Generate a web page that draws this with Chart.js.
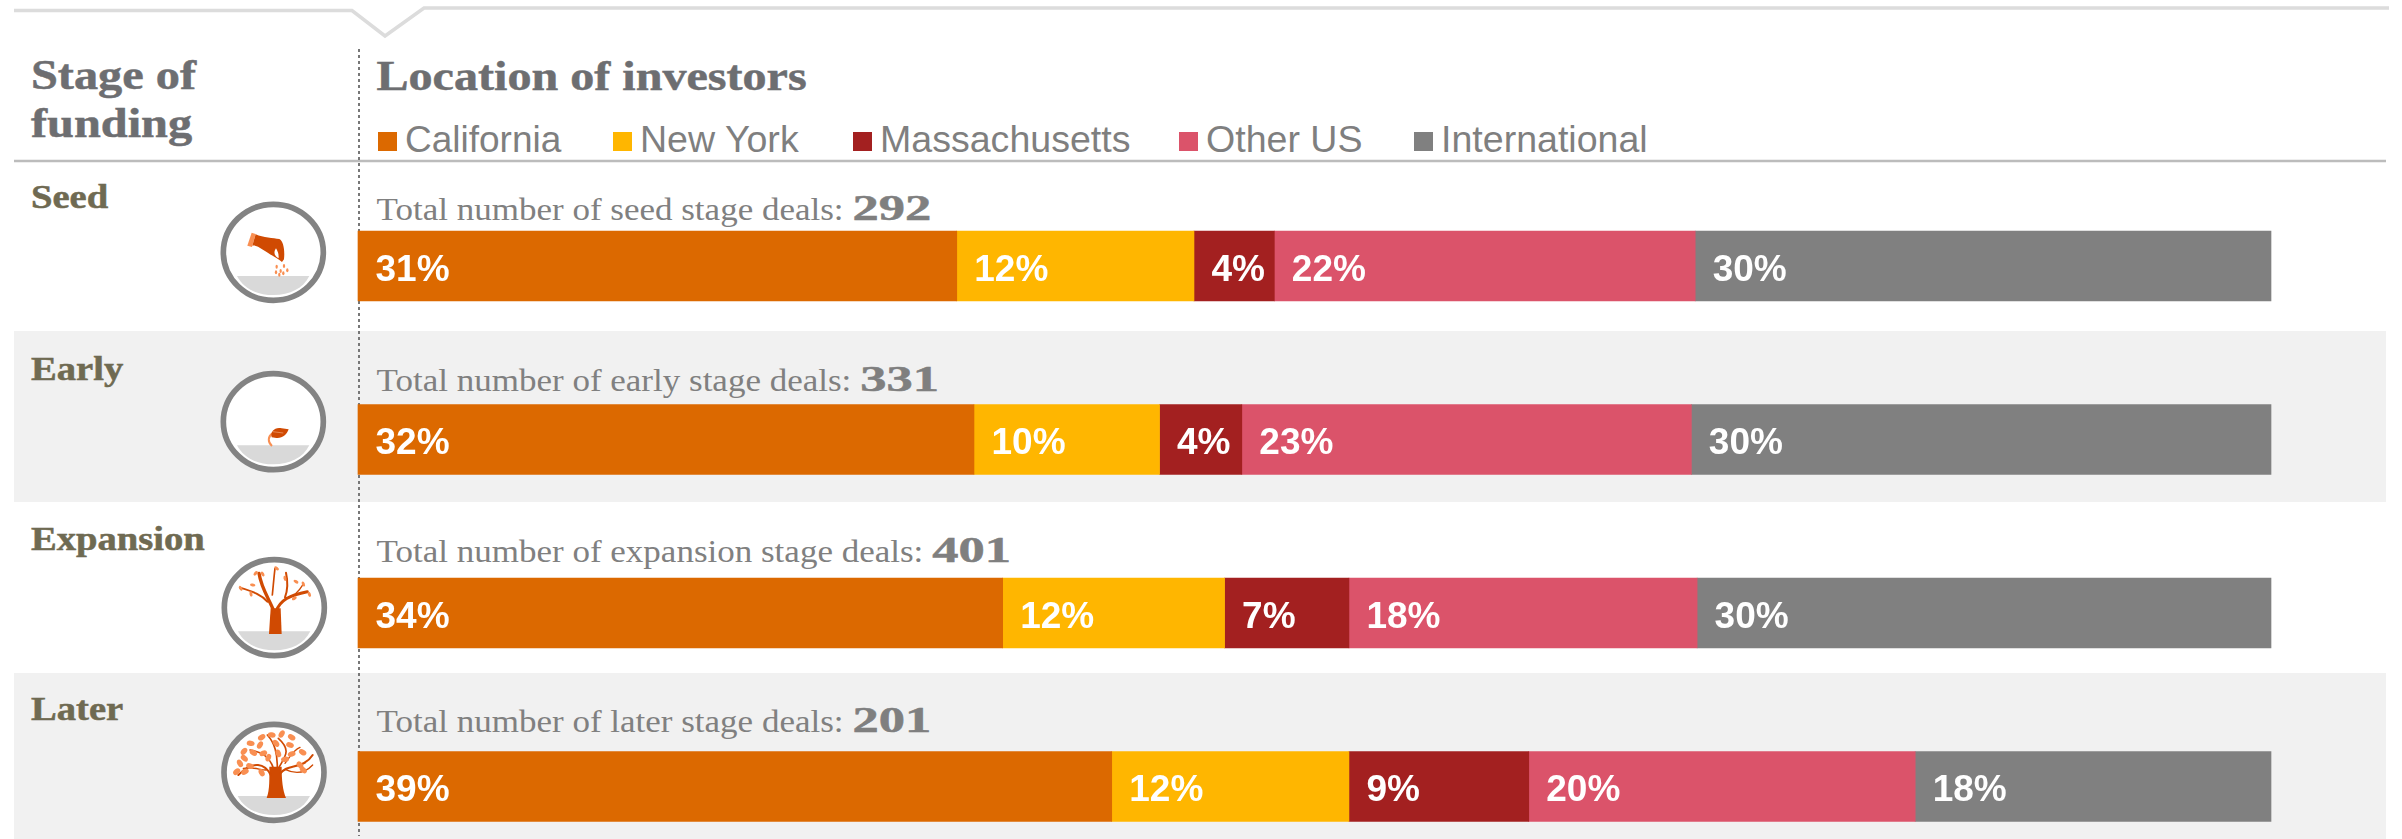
<!DOCTYPE html>
<html>
<head>
<meta charset="utf-8">
<title>Stage of funding by location of investors</title>
<script src="https://cdn.jsdelivr.net/npm/chart.js@4"></script>
<style>
  html, body { margin: 0; background: #fff; }
  #wrap { position: relative; width: 2402px; height: 839px; overflow: hidden; }
  #bg, #chart { position: absolute; left: 0; top: 0; }
</style>
</head>
<body>
<div id="wrap">
  <svg id="bg" width="2402" height="839" viewBox="0 0 2402 839" xmlns="http://www.w3.org/2000/svg"></svg>
  <canvas id="chart" width="2402" height="839"></canvas>
</div>
<script>
// Data
const stages = ['Seed', 'Early', 'Expansion', 'Later'];
const totalDeals = [292, 331, 401, 201];
const seriesNames = ['California', 'New York', 'Massachusetts', 'Other US', 'International'];
const seriesColors = ['#DC6900', '#FFB600', '#A32020', '#DB536A', '#808080'];

const california = [31.3, 32.2, 33.7, 39.4];
const newYork = [12.4, 9.7, 11.6, 12.4];
const massachusetts = [4.2, 4.3, 6.5, 9.4];
const otherUs = [22.0, 23.5, 18.2, 20.2];
const international = [30.1, 30.3, 30.0, 18.6];

const californiaLabels = ['31%', '32%', '34%', '39%'];
const newYorkLabels = ['12%', '10%', '12%', '12%'];
const massachusettsLabels = ['4%', '4%', '7%', '9%'];
const otherUsLabels = ['22%', '23%', '18%', '20%'];
const internationalLabels = ['30%', '30%', '30%', '18%'];

const seriesValues = [california, newYork, massachusetts, otherUs, international];
const seriesLabels = [californiaLabels, newYorkLabels, massachusettsLabels, otherUsLabels, internationalLabels];

const SERIF = "'Liberation Serif', serif";
const SANS = "'Liberation Sans', Arial, sans-serif";
const svg = document.getElementById('bg');

// Icons, drawn in crop pixels at 3x
function leaves(list, rx, ry) {
  return list.map(l => `<ellipse cx="${l[0]}" cy="${l[1]}" rx="${rx}" ry="${ry}" transform="rotate(${l[2]} ${l[0]} ${l[1]})" fill="#f98f52"/>`).join('');
}
const ring = `<ellipse cx="0" cy="0" rx="150" ry="144" fill="#fff" stroke="#838383" stroke-width="17"/>
  <path d="M-109,71 H108 C90,108 50,128 0,128 C-50,128 -90,108 -109,71 Z" fill="#d9d9d9"/>`;
const iconSeed = `<path d="M185,128 L197,132 L186,171 L172,167 Z" fill="#f98f52"/>
  <path d="M197,133 C220,143 250,145 268,147 C280,152 285,180 282,208 L276,216 C262,205 235,190 220,180 C205,170 195,165 187,167 Z" fill="#d04a02"/>
  <path d="M258,175 C266,188 266,196 266,205 C256,200 248,190 258,175 Z" fill="#fff"/>
  ${leaves([[260,230,0],[282,228,0],[258,247,0],[272,243,0],[292,241,0],[268,254,0],[280,250,0]], 3.5, 6)}`;
const iconEarly = `<path d="M246,258 C232,245 234,230 247,220" fill="none" stroke="#f98f52" stroke-width="6"/>
  <path d="M245,232 C240,215 255,200 275,205 L296,208 C290,225 275,237 255,233 Z" fill="#d04a02"/>
  <path d="M248,215 L280,219" stroke="#f2a77c" stroke-width="2"/>`;
const iconExpansion = `<path d="M237,282 L242,205 L272,205 L275,282 Z" fill="#d04a02"/>
  <g fill="none" stroke="#d04a02" stroke-linecap="round">
    <path d="M252,215 C240,180 215,150 207,100" stroke-width="10"/>
    <path d="M258,215 C270,180 300,165 352,155" stroke-width="9"/>
    <path d="M232,185 C215,165 190,155 150,143" stroke-width="6"/>
    <path d="M285,172 C295,145 294,125 288,98" stroke-width="6"/>
    <path d="M247,165 C250,135 252,110 255,85" stroke-width="5"/>
    <path d="M318,160 C330,150 335,140 340,132" stroke-width="4"/>
  </g>
  ${leaves([[260,85,40],[218,102,60],[197,100,-50],[285,115,80],[318,125,30],[340,132,70],[188,135,10],[152,145,60],[183,162,80],[313,175,-30],[358,163,70]], 8, 4.5)}`;
const iconLater = `<path d="M230,264 C240,240 238,200 238,170 L275,170 C275,210 278,240 288,264 Z" fill="#d04a02"/>
  <g fill="none" stroke="#d04a02" stroke-linecap="round">
    <path d="M242,195 C225,160 190,150 145,195" stroke-width="6"/>
    <path d="M272,190 C290,160 340,180 368,135" stroke-width="6"/>
    <path d="M250,175 C240,140 215,125 180,120" stroke-width="5"/>
    <path d="M262,175 C262,130 255,100 232,75" stroke-width="5"/>
    <path d="M268,170 C285,140 305,120 265,85" stroke-width="5"/>
    <path d="M285,160 C300,140 310,120 330,112" stroke-width="4"/>
    <path d="M285,178 C310,190 340,195 368,165" stroke-width="4"/>
    <path d="M160,175 C190,170 210,180 228,180" stroke-width="4"/>
  </g>
  ${leaves([[215,82,-30],[245,75,10],[275,72,-60],[305,82,30],[182,100,10],[210,105,-60],[258,100,50],[300,105,20],[162,124,-50],[190,128,30],[235,143,-70],[338,127,30],[305,132,-20],[163,145,40],[150,160,60],[180,168,20],[285,148,-10],[330,165,50],[140,185,-40],[215,188,60],[340,180,40],[165,185,-30],[265,130,70],[220,130,-20]], 12, 8)}`;

const icons = [
  { crop: [190, 190], center: [250, 187], art: iconSeed },
  { crop: [190, 360], center: [250, 185], art: iconEarly },
  { crop: [190, 540], center: [253, 203], art: iconExpansion },
  { crop: [190, 710], center: [252, 187], art: iconLater }
];

// Frame, row bands and rules sit behind the canvas
svg.innerHTML = `
  <rect x="14" y="331" width="2372" height="171" fill="#f1f1f1"/>
  <rect x="14" y="673" width="2372" height="166" fill="#f1f1f1"/>
  <polyline points="14,10.5 352,10.5 385,36 424,8 2389,8" fill="none" stroke="#dcdcdc" stroke-width="3.5"/>
  <line x1="14" y1="161" x2="2386" y2="161" stroke="#bcbcbc" stroke-width="2.5"/>
  <line x1="359" y1="49" x2="359" y2="836" stroke="#777" stroke-width="2" stroke-dasharray="3 3"/>
  ${icons.map(i => `<g transform="translate(${i.crop[0]} ${i.crop[1]}) scale(0.3333)">
    <g transform="translate(${i.center[0]} ${i.center[1]})">${ring}</g>${i.art}</g>`).join('')}
`;

function addText(str, x, y, size, weight, family, color, stretch) {
  const t = document.createElementNS('http://www.w3.org/2000/svg', 'text');
  t.textContent = str;
  t.setAttribute('x', x);
  t.setAttribute('y', y);
  t.setAttribute('font-size', size);
  t.setAttribute('font-weight', weight);
  t.setAttribute('font-family', family);
  t.setAttribute('fill', color);
  // stretched bold serif comes out thin, thicken it a little
  if (weight === 'bold') {
    t.setAttribute('stroke', color);
    t.setAttribute('stroke-width', 0.5);
  }
  svg.appendChild(t);
  const natural = t.getComputedTextLength();
  if (stretch) {
    t.setAttribute('textLength', natural * stretch);
    t.setAttribute('lengthAdjust', 'spacingAndGlyphs');
  }
  return natural * (stretch || 1);
}

addText('Stage of', 31, 89, 42, 'bold', SERIF, '#6d6e71', 1.15);
addText('funding', 31, 137, 42, 'bold', SERIF, '#6d6e71', 1.15);
addText('Location of investors', 376.5, 90, 42, 'bold', SERIF, '#6d6e71', 1.145);

// Legend
const legendBoxX = [378, 613, 853, 1179, 1414];
seriesNames.forEach((name, i) => {
  const box = document.createElementNS('http://www.w3.org/2000/svg', 'rect');
  box.setAttribute('x', legendBoxX[i]);
  box.setAttribute('y', 132);
  box.setAttribute('width', 19);
  box.setAttribute('height', 19);
  box.setAttribute('fill', seriesColors[i]);
  svg.appendChild(box);
  addText(name, legendBoxX[i] + 27, 151.5, 37, 'normal', SANS, '#7f7f7f', i === 0 ? 1 : 1.015);
});

// Row headings and deal totals
const stageBaselines = [208, 380, 550, 720];
const totalBaselines = [220, 391, 562, 732];
stages.forEach((stage, i) => {
  addText(stage, 31, stageBaselines[i], 33, 'bold', SERIF, '#6f6a52', 1.17);
  const w = addText(`Total number of ${stage.toLowerCase()} stage deals:`, 376.5, totalBaselines[i], 32, 'normal', SERIF, '#808080', 1.094);
  addText(String(totalDeals[i]), 376.5 + w + 9, totalBaselines[i], 35, 'bold', SERIF, '#7f7f7f', 1.5);
});

// Percent labels inside the bars
const barLabels = {
  id: 'barLabels',
  afterDatasetsDraw(chart) {
    const ctx = chart.ctx;
    ctx.save();
    ctx.font = `bold 37px ${SANS}`;
    ctx.fillStyle = '#fff';
    ctx.textAlign = 'left';
    ctx.textBaseline = 'alphabetic';
    chart.data.datasets.forEach((ds, d) => {
      chart.getDatasetMeta(d).data.forEach((bar, i) => {
        ctx.fillText(seriesLabels[d][i], bar.base + 17.5, bar.y + 14.5);
      });
    });
    ctx.restore();
  }
};

new Chart(document.getElementById('chart'), {
  type: 'bar',
  data: {
    labels: stages,
    datasets: seriesNames.map((name, i) => ({
      label: name,
      data: seriesValues[i],
      backgroundColor: seriesColors[i],
      barThickness: 70,
      clip: false
    }))
  },
  options: {
    indexAxis: 'y',
    responsive: false,
    maintainAspectRatio: false,
    animation: false,
    layout: { padding: { left: 358, right: 131, top: 266, bottom: 52.5 } },
    plugins: { legend: { display: false }, tooltip: { enabled: false } },
    scales: {
      x: { stacked: true, display: false, min: 0, max: 100 },
      y: { stacked: true, display: false, offset: false }
    }
  },
  plugins: [barLabels]
});
</script>
</body>
</html>
